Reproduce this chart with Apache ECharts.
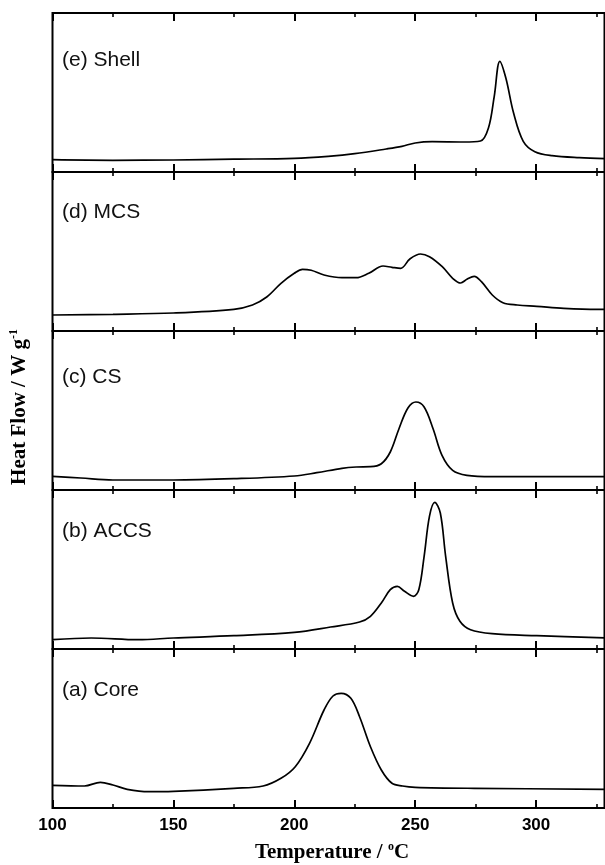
<!DOCTYPE html>
<html>
<head>
<meta charset="utf-8">
<script src="https://cdn.jsdelivr.net/npm/echarts@6/dist/echarts.min.js"></script>
<style>html,body{margin:0;padding:0;background:#fff}#c{width:605px;height:865px}</style>
</head>
<body>
<div id="c"></div>
<script>
// Panel (e) Shell
const tempE = [100,125,150,175,200,214,225,238,244.5,250,257,270,277,280.3,282.7,285,287.5,290.7,294.7,299.5,306.6,317.8,330];
const heatE = [12.3,11.7,12,12.8,13.7,15.7,18.3,23,25.7,29,30.3,30,31,44,75.7,110.7,94,59,30.7,20.3,16.3,14.3,13.3];
// Panel (d) MCS
const tempD = [100,125,150,175,182.7,188.6,194.5,200,203.4,207,212.3,219.7,225.6,230.8,236.7,240.4,244,247.8,252.2,255.9,261.2,265.5,268.8,271.4,274.4,277.4,281.9,286.3,292.2,300.3,311.5,325.4,330];
const heatD = [16,16.7,18,21.7,26,34,47.7,57.7,61.7,60.7,56,53.3,53.3,57.7,65,63.7,62.7,72,77,74.3,64.3,52.7,48,51.7,54.7,49.3,36,28.3,26,24.7,22.7,21.7,21.7];
// Panel (c) CS
const tempC = [100,111.7,125,150,175,200,209.3,219.7,225.6,231.5,236,239.7,243.3,247,250.3,253.7,257.4,261.1,265.5,271.4,281.8,300.3,330];
const heatC = [13.7,12,10,10,11.3,14,17.3,21.7,23,23.3,26.3,38,61.3,82,88,83,61.3,34.7,19.7,14.7,13.3,13.3,13.3];
// Panel (b) ACCS
const tempB = [100,116,135.4,150,175,200,215,227,231.5,236,239.7,242.6,245.6,249.3,251.5,253.7,255.9,258.1,260.4,262.6,265.5,268.5,272.9,281.8,300.3,330];
const heatB = [9.3,11,9.3,11,13.3,16.7,22,27,32.7,46,59.3,62.7,57.7,52.7,59.3,92.7,132.7,146.7,136,92.7,46,27.7,19.3,15.3,13.3,11];
// Panel (a) Core
const tempA = [100,113.2,119.8,125,130.9,139.8,150,175,187.1,194.5,200.4,206.3,212.3,216,219.4,223.4,227,231.5,236,240.4,244.8,250,274.4,330];
const heatA = [22.7,22,25.7,23,18.7,16.3,16.7,19.7,22,29.7,41.3,64.7,98,112,114.7,109.7,91.3,61.3,38,24.7,22,20.7,19.7,18.7];

const panelLabels = ['(e) Shell','(d) MCS','(c) CS','(b) ACCS','(a) Core'];
const xTitle = 'Temperature / ';
const yTitle = 'Heat Flow / W g';
const xMin = 100, xMax = 328.3, majorStep = 50, minorStep = 25;

const panels = [[tempE,heatE],[tempD,heatD],[tempC,heatC],[tempB,heatB],[tempA,heatA]];
const tops = [13,172,331,490,649];
const labelY = [62,214,379,533,692];
const H = 159;

const grids = [], xAxes = [], yAxes = [], series = [], graphics = [];
panels.forEach((p, i) => {
  grids.push({left:52.5, right:0.5, top:tops[i], height:H, show:true, borderColor:'#000', borderWidth:2, backgroundColor:'transparent'});
  const isLast = i === panels.length - 1;
  const base = xAxes.length;
  ['bottom','top'].forEach(pos => {
    xAxes.push({
      type:'value', gridIndex:i, position:pos, min:xMin, max:xMax, interval:majorStep,
      axisLine:{show:false}, splitLine:{show:false},
      axisTick:{show:true, inside:true, length:8, lineStyle:{color:'#000', width:2}},
      axisLabel:{show: isLast && pos==='bottom', color:'#000', fontFamily:'Liberation Sans', fontWeight:'bold', fontSize:17, margin:9, showMaxLabel:false}
    });
    xAxes.push({
      type:'value', gridIndex:i, position:pos, min:xMin, max:xMax, interval:minorStep,
      axisLine:{show:false}, splitLine:{show:false},
      axisTick:{show:true, inside:true, length:4, lineStyle:{color:'#000', width:1.6}},
      axisLabel:{show:false}
    });
  });
  yAxes.push({type:'value', gridIndex:i, min:0, max:H, show:false});
  series.push({
    type:'line', xAxisIndex:base, yAxisIndex:i, showSymbol:false, smooth:0.35,
    lineStyle:{color:'#000', width:1.7}, data:p[0].map((t,k)=>[t,p[1][k]])
  });
  graphics.push({type:'text', left:62, top:labelY[i]-12, style:{text:panelLabels[i], font:'21px "Liberation Sans"', fill:'#111'}});
});

graphics.push({type:'text', x:332, y:853, style:{
  text:'{t|'+xTitle+'}{s|o}{t|C}', align:'center', verticalAlign:'middle',
  rich:{t:{font:'bold 21px "Liberation Serif"', fill:'#000', lineHeight:24}, s:{font:'bold 12px "Liberation Serif"', fill:'#000', lineHeight:12, verticalAlign:'top'}}
}});
graphics.push({type:'text', x:20, y:407, rotation:Math.PI/2, style:{
  text:'{t|'+yTitle+'}{s|-1}', align:'center', verticalAlign:'middle',
  rich:{t:{font:'bold 21px "Liberation Serif"', fill:'#000', lineHeight:24}, s:{font:'bold 12px "Liberation Serif"', fill:'#000', lineHeight:12, verticalAlign:'top'}}
}});

const chart = echarts.init(document.getElementById('c'));
chart.setOption({animation:false, backgroundColor:'#fff', grid:grids, xAxis:xAxes, yAxis:yAxes, series:series, graphic:graphics});
</script>
</body>
</html>
